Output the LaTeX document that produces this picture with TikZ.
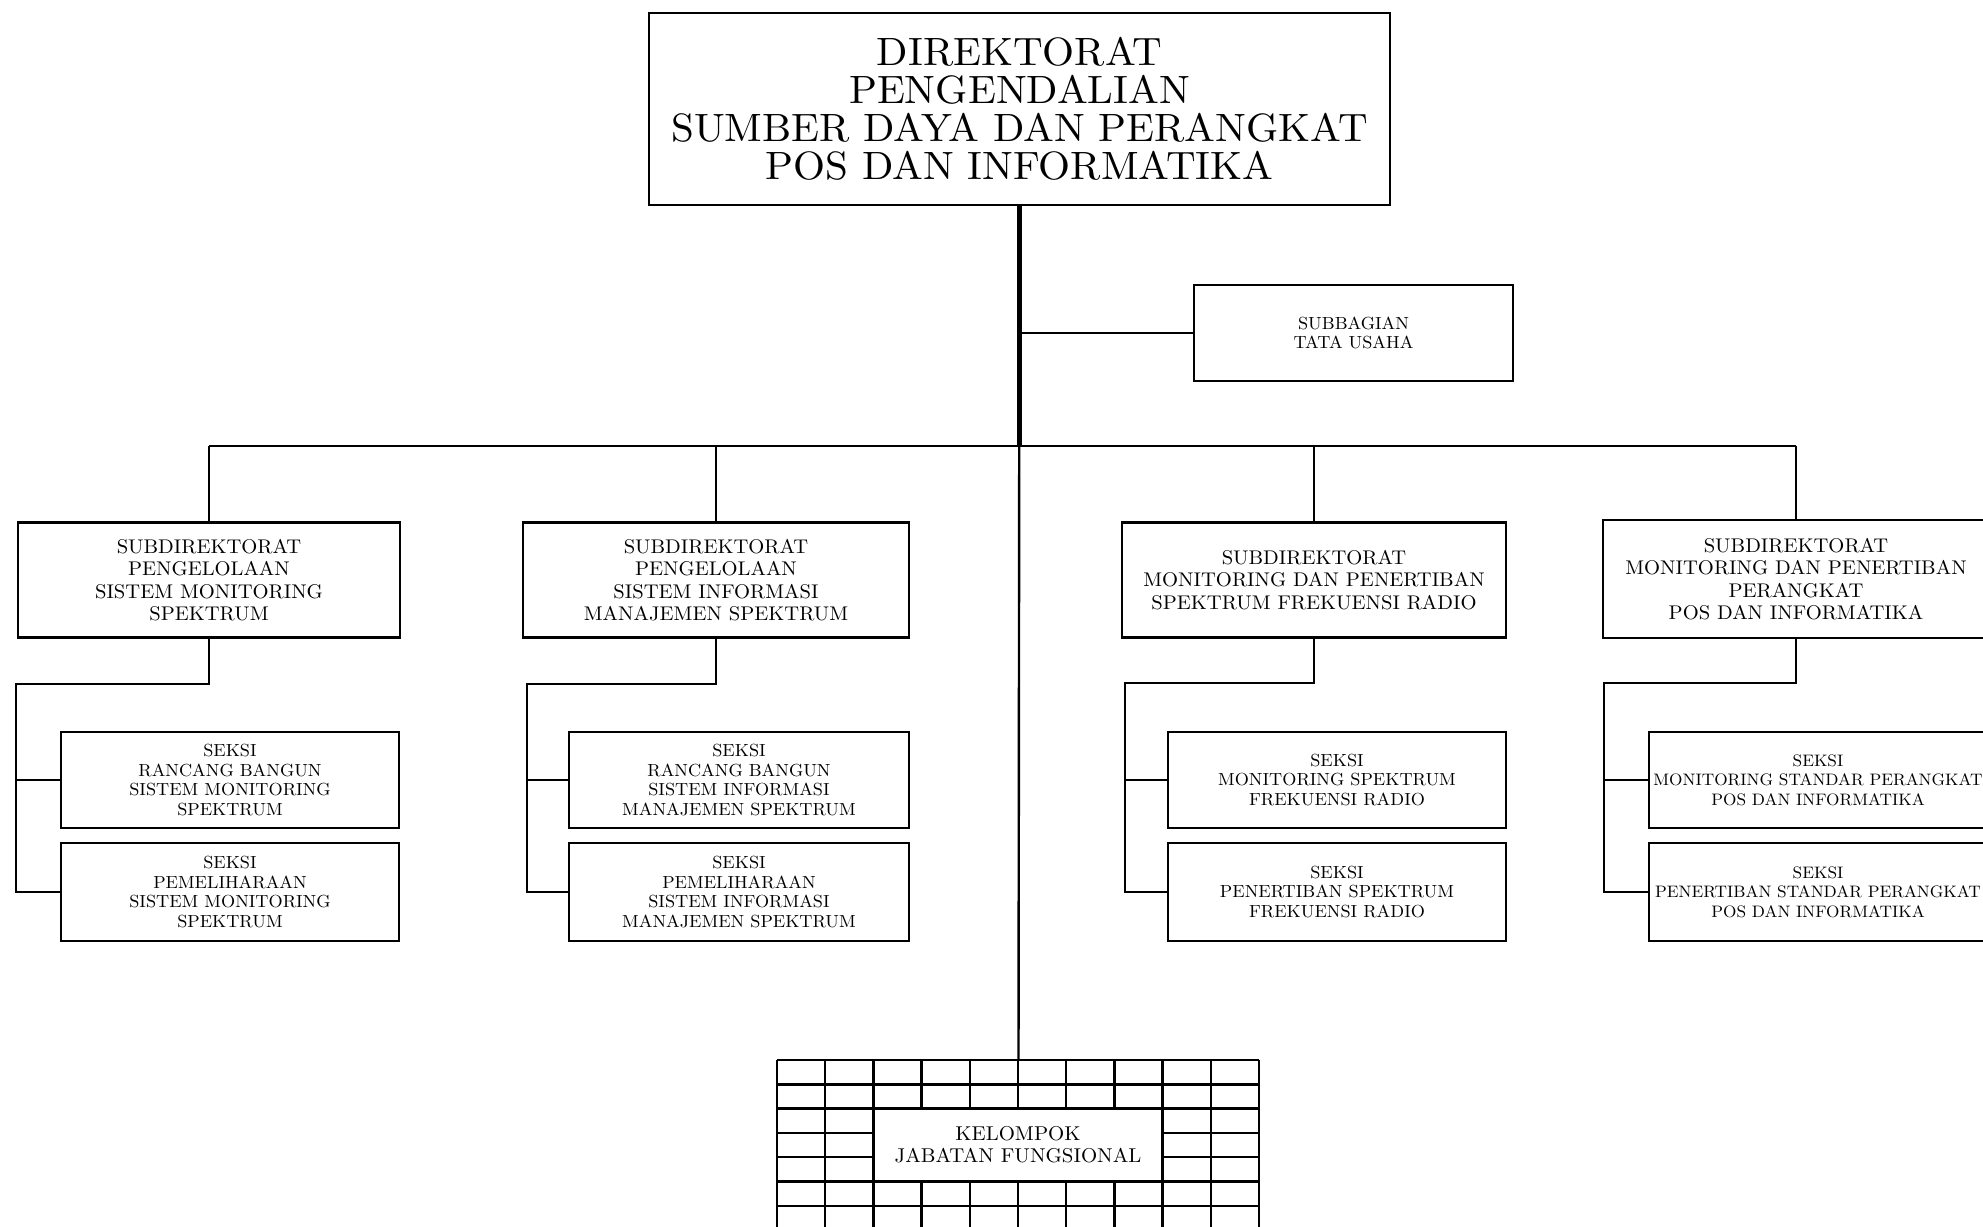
\documentclass[tikz,border=0pt]{standalone}
\usepackage{fontspec}
\setmainfont{lmroman10-regular.otf}[FakeStretch=1.04]
\begin{document}
\begin{tikzpicture}[x=1pt,y=-1pt,
  box/.style={draw, line width=2.6pt, inner sep=0pt, align=center, fill=white},
  topbox/.style={box, minimum width=741pt, minimum height=192pt, font={\fontsize{39.5}{38}\selectfont}},
  tubox/.style={box, minimum width=319pt, minimum height=96pt, font={\fontsize{17.5}{19}\selectfont}},
  subbox/.style={box, minimum width=384pt, minimum height=115pt, font={\fontsize{19.8}{22.4}\selectfont}},
  sekbox/.style={box, minimum width=338pt, minimum height=96pt, font={\fontsize{17.5}{19.4}\selectfont}},
  conn/.style={line width=2.4pt},
  gridln/.style={line width=2.4pt}
]
\useasboundingbox (0,0) rectangle (1983,1226);
\clip (0,0) rectangle (1983,1226);

% nodes
\node[topbox] (top) at (1019.5,109) {DIREKTORAT\\PENGENDALIAN\\SUMBER DAYA DAN PERANGKAT\\POS DAN INFORMATIKA};
\node[tubox] (tu) at (1353.5,333) {SUBBAGIAN\\TATA USAHA};

\node[subbox, minimum width=382pt] (s1) at (209,580) {SUBDIREKTORAT\\PENGELOLAAN\\SISTEM MONITORING\\SPEKTRUM};
\node[subbox, minimum width=386pt] (s2) at (716,580) {SUBDIREKTORAT\\PENGELOLAAN\\SISTEM INFORMASI\\MANAJEMEN SPEKTRUM};
\node[subbox] (s3) at (1314,580) {SUBDIREKTORAT\\MONITORING DAN PENERTIBAN\\SPEKTRUM FREKUENSI RADIO};
\node[subbox, minimum width=386pt, minimum height=118pt] (s4) at (1796,579) {SUBDIREKTORAT\\MONITORING DAN PENERTIBAN\\PERANGKAT\\POS DAN INFORMATIKA};

\node[sekbox] (k11) at (230,780) {SEKSI\\RANCANG BANGUN\\SISTEM MONITORING\\SPEKTRUM};
\node[sekbox, minimum height=98pt] (k12) at (230,892) {SEKSI\\PEMELIHARAAN\\SISTEM MONITORING\\SPEKTRUM};
\node[sekbox, minimum width=340pt] (k21) at (739,780) {SEKSI\\RANCANG BANGUN\\SISTEM INFORMASI\\MANAJEMEN SPEKTRUM};
\node[sekbox, minimum width=340pt, minimum height=98pt] (k22) at (739,892) {SEKSI\\PEMELIHARAAN\\SISTEM INFORMASI\\MANAJEMEN SPEKTRUM};
\node[sekbox] (k31) at (1337,780) {SEKSI\\MONITORING SPEKTRUM\\FREKUENSI RADIO};
\node[sekbox, minimum height=98pt] (k32) at (1337,892) {SEKSI\\PENERTIBAN SPEKTRUM\\FREKUENSI RADIO};
\node[sekbox, font={\fontsize{16.6}{19.4}\selectfont}] (k41) at (1818,780) {SEKSI\\MONITORING STANDAR PERANGKAT\\POS DAN INFORMATIKA};
\node[sekbox, minimum height=98pt, font={\fontsize{16.6}{19.4}\selectfont}] (k42) at (1818,892) {SEKSI\\PENERTIBAN STANDAR PERANGKAT\\POS DAN INFORMATIKA};

% grid of kelompok jabatan fungsional
\foreach \i in {0,1,2,8,9,10}
  \draw[gridln] ({777+48.2*\i},1060) -- ({777+48.2*\i},1240);
\foreach \i in {3,...,7} {
  \draw[gridln] ({777+48.2*\i},1060) -- ({777+48.2*\i},1108.6);
  \draw[gridln] ({777+48.2*\i},1181.5) -- ({777+48.2*\i},1240);
}
\foreach \j in {0,1,2,5,6,7}
  \draw[gridln] (777,{1060+24.3*\j}) -- (1259,{1060+24.3*\j});
\foreach \j in {3,4} {
  \draw[gridln] (777,{1060+24.3*\j}) -- (873.4,{1060+24.3*\j});
  \draw[gridln] (1162.6,{1060+24.3*\j}) -- (1259,{1060+24.3*\j});
}
\node[align=center, inner sep=0pt, font={\fontsize{20}{21.7}\selectfont}] (kjf) at (1018,1145) {KELOMPOK\\JABATAN FUNGSIONAL};

% coordinates
\coordinate (bus) at (1019.5,446);
\coordinate (gt) at (1018.5,1060);
\coordinate (b1) at (16,684);
\coordinate (b2) at (527,684);
\coordinate (b3) at (1125,683);
\coordinate (b4) at (1604,683);

% connectors
\draw[line width=4.5pt] (top.south) -- (bus);
\draw[conn] (top.south) -- (gt);
\draw[conn] (top.south |- tu.west) -- (tu.west);
\draw[conn] (s1.north |- bus) -- (s4.north |- bus);
\foreach \s in {s1,s2,s3,s4}
  \draw[conn] (\s.north |- bus) -- (\s.north);

\draw[conn] (s1.south) |- (b1) |- (k12.west);
\draw[conn] (b1 |- k11.west) -- (k11.west);
\draw[conn] (s2.south) |- (b2) |- (k22.west);
\draw[conn] (b2 |- k21.west) -- (k21.west);
\draw[conn] (s3.south) |- (b3) |- (k32.west);
\draw[conn] (b3 |- k31.west) -- (k31.west);
\draw[conn] (s4.south) |- (b4) |- (k42.west);
\draw[conn] (b4 |- k41.west) -- (k41.west);
\end{tikzpicture}
\end{document}
